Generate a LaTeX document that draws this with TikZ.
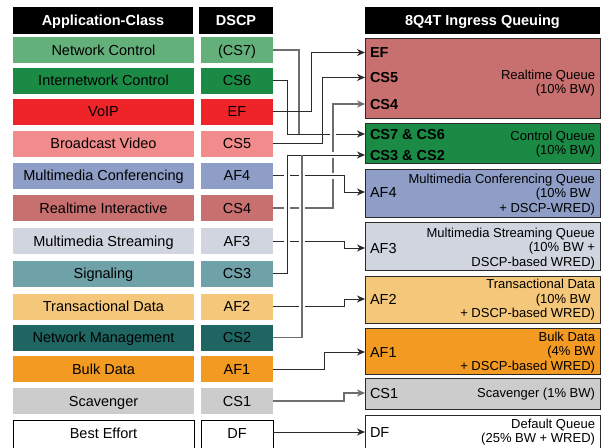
\documentclass[tikz,border=0pt]{standalone}
\usepackage{fontspec}
\setmainfont{Liberation Sans}
\usetikzlibrary{arrows.meta}
\definecolor{cNC}{HTML}{63B07A}
\definecolor{cIC}{HTML}{1A8A45}
\definecolor{cVoIP}{HTML}{EE2428}
\definecolor{cBV}{HTML}{F28B8B}
\definecolor{cMC}{HTML}{8E9EC6}
\definecolor{cRI}{HTML}{C87070}
\definecolor{cMS}{HTML}{D0D5E0}
\definecolor{cSig}{HTML}{6FA1A8}
\definecolor{cTD}{HTML}{F5C77A}
\definecolor{cNM}{HTML}{1F6662}
\definecolor{cBulk}{HTML}{F39A22}
\definecolor{cScav}{HTML}{CCCCCC}
\definecolor{lnDark}{HTML}{2B2B2B}
\definecolor{lnGray}{HTML}{6E6E6E}
\definecolor{qborder}{HTML}{2A2A2A}
\begin{document}
\begin{tikzpicture}[x=1pt,y=-1pt,
  every node/.style={inner sep=0pt, outer sep=0pt},
  base/.style={font=\fontsize{14.5}{17}\selectfont, text height=10.5pt, text depth=0pt},
  appbox/.style={base, minimum width=181pt, minimum height=26pt},
  dscpbox/.style={base, minimum width=72pt, minimum height=26pt},
  hdr/.style={fill=black, text=white, font=\bfseries\fontsize{14.5}{17}\selectfont, text height=10.5pt, text depth=0pt, minimum height=27pt},
  queue/.style={draw=qborder, line width=1pt, minimum width=235pt, anchor=north west},
  qlab/.style={font=\fontsize{14.5}{17}\selectfont, anchor=west, text height=10.5pt, text depth=0pt},
  qbold/.style={qlab, font=\bfseries\fontsize{14.5}{17}\selectfont},
  qdesc/.style={font=\fontsize{13}{14.5}\selectfont, align=right, anchor=east},
  conn/.style={line width=1pt, draw=lnDark, -{Stealth[length=8pt,width=7pt,inset=2.5pt]}},
  conng/.style={conn, draw=lnGray, line width=1.2pt},
  plain/.style={line width=1.2pt, draw=lnGray},
  gap/.style={preaction={draw=white, line width=6pt, -, shorten >=2pt}}
]
\useasboundingbox (0,0) rectangle (602,447);

% headers
\node[hdr, minimum width=180pt] (h1) at (103,20) {Application-Class};
\node[hdr, minimum width=74pt] (h2) at (236,20) {DSCP};
\node[hdr, minimum width=235pt] (h3) at (482.5,20.5) {8Q4T Ingress Queuing};

% left columns
\foreach \i/\app/\ds/\col/\yy in {
  0/Network Control/(CS7)/cNC/50,
  1/Internetwork Control/CS6/cIC/80.5,
  2/VoIP/EF/cVoIP/111.5,
  3/Broadcast Video/CS5/cBV/143.5,
  4/Multimedia Conferencing/AF4/cMC/175.5,
  5/Realtime Interactive/CS4/cRI/208,
  6/Multimedia Streaming/AF3/cMS/241,
  7/Signaling/CS3/cSig/273.5,
  8/Transactional Data/AF2/cTD/306.5,
  9/Network Management/CS2/cNM/337.5,
  10/Bulk Data/AF1/cBulk/369,
  11/Scavenger/CS1/cScav/401}{
  \node[appbox, fill=\col] (a\i) at (103.5,\yy) {\app};
  \node[dscpbox, fill=\col] (d\i) at (237,\yy) {\ds};
}
\node[appbox, fill=white, draw=black, line width=1pt, minimum height=34pt, text depth=8pt] (a12) at (103.5,437) {Best Effort};
\node[dscpbox, fill=white, draw=black, line width=1pt, minimum height=34pt, text depth=8pt] (d12) at (237,437) {DF};

% queues
\node[queue, fill=cRI, minimum height=80pt] (rtq) at (365,38) {};
\node[queue, fill=cIC, minimum height=40pt] (ctq) at (365,123) {};
\node[queue, fill=cMC, minimum height=48pt] (mcq) at (365,169) {};
\node[queue, fill=cMS, minimum height=48pt] (msq) at (365,222) {};
\node[queue, fill=cTD, minimum height=47pt] (tdq) at (365,276) {};
\node[queue, fill=cBulk, minimum height=46pt] (bdq) at (365,328) {};
\node[queue, fill=cScav, minimum height=31pt] (svq) at (365,378) {};
\node[queue, fill=white, minimum height=45pt] (dfq) at (365,415) {};

% queue labels
\node[qbold] (efl) at (370,52.5) {EF};
\node[qbold] (cs5l) at (370,77.5) {CS5};
\node[qbold] (cs4l) at (370,104) {CS4};
\node[qbold] (c76l) at (370,134) {CS7 \& CS6};
\node[qbold] (c32l) at (370,155) {CS3 \& CS2};
\node[qlab] (af4l) at (370,192) {AF4};
\node[qlab] (af3l) at (370,248) {AF3};
\node[qlab] (af2l) at (370,299) {AF2};
\node[qlab] (af1l) at (370,352) {AF1};
\node[qlab] (cs1l) at (370,393) {CS1};
\node[qlab] (dfl) at (370,432) {DF};

% queue descriptions
\node[qdesc] (t1) at (595,83) {Realtime Queue\\(10\% BW)};
\node[qdesc] (t2) at (595,144) {Control Queue\\(10\% BW)};
\node[qdesc] (t3) at (595,194.5) {Multimedia Conferencing Queue\\(10\% BW\hphantom{)}\\+ DSCP-WRED)};
\node[qdesc] (t4) at (595,248.5) {Multimedia Streaming Queue\\(10\% BW +\\DSCP-based WRED)};
\node[qdesc] (t5) at (595,300) {Transactional Data\\(10\% BW\hphantom{)}\\+ DSCP-based WRED)};
\node[qdesc] (t6) at (595,352.5) {Bulk Data\\(4\% BW\\+ DSCP-based WRED)};
\node[qdesc] (t7) at (595,394.5) {Scavenger (1\% BW)};
\node[qdesc] (t8) at (595,432) {Default Queue\\(25\% BW + WRED)};

% corner helpers
\path (d0.east) ++(26,0) coordinate (k7);
\path (d9.east) ++(29,0) coordinate (k2);

% connectors
\draw[plain] (d0.east) -- (k7) -- (k7 |- c76l.west);
\draw[conn] (d1.east) -- ++(14,0) |- (c76l.west -| ctq.west);
\draw[conn] (d2.east) -- ++(38,0) |- (efl.west -| rtq.west);
\draw[conn] (d3.east) -- ++(49,0) |- (cs5l.west -| rtq.west);
\draw[conng, gap] (d5.east) -- ++(60,0) |- (cs4l.west -| rtq.west);
\draw[conn, gap] (d4.east) -- ++(71,0) |- (af4l.west -| mcq.west);
\draw[conn] (d6.east) -- ++(71,0) |- (af3l.west -| msq.west);
\draw[conn] (d8.east) -- ++(71,0) |- (af2l.west -| tdq.west);
\draw[conn] (d10.east) -- ++(51,0) |- (af1l.west -| bdq.west);
\draw[conng] (d11.east) -- ++(71,0) |- (cs1l.west -| svq.west);
\draw[conn] (dfl.west -| d12.east) -- (dfl.west -| dfq.west);
\draw[conn, gap] (d7.east) -- ++(14,0) |- (c32l.west -| ctq.west);
\draw[plain, gap] (d9.east) -- (k2) -- (k2 |- c32l.west);
\end{tikzpicture}
\end{document}
